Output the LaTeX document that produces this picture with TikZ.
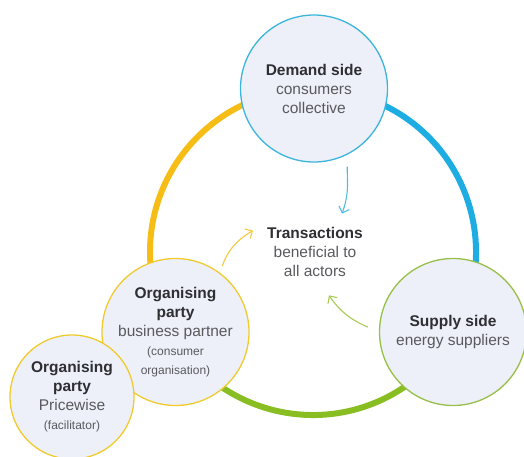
\documentclass[tikz,border=0pt]{standalone}
\usepackage{fontspec}
\setmainfont{Liberation Sans}
\usetikzlibrary{arrows.meta,positioning}

\definecolor{ringyellow}{HTML}{F6BD16}
\definecolor{ringblue}{HTML}{1DADE2}
\definecolor{ringgreen}{HTML}{88BE22}
\definecolor{demandblue}{HTML}{3BB5DC}
\definecolor{supplygreen}{HTML}{98BF48}
\definecolor{orgyellow}{HTML}{F0CB2E}
\definecolor{actorfill}{HTML}{EDF0F8}
\definecolor{txtdark}{HTML}{2E2E33}
\definecolor{txtgrey}{HTML}{5A5A5E}
\definecolor{arrowblue}{HTML}{52BCE4}
\definecolor{arrowyellow}{HTML}{F6C83E}
\definecolor{arrowgreen}{HTML}{A6CC52}

\newcommand{\hd}[1]{{\color{txtdark}\bfseries #1}}
\newcommand{\sm}[1]{{\fontsize{12}{15}\selectfont #1}}

\begin{document}
\begin{tikzpicture}[x=1pt,y=1pt]
\tikzstyle{actor} = [circle, line width=1.3pt, fill=actorfill,
minimum size=147pt, inner sep=0pt, align=center, text=txtgrey,
font=\fontsize{15.5}{19}\selectfont]
\tikzstyle{actor_demand} = [actor, draw=demandblue]
\tikzstyle{actor_supply} = [actor, draw=supplygreen]
\tikzstyle{actor_org} = [actor, draw=orgyellow]
\tikzstyle{actor_small} = [actor_org, minimum size=124pt]
\tikzstyle{centre_text} = [align=center, text=txtgrey, inner sep=3pt,
font=\fontsize{15.5}{19}\selectfont]
\tikzstyle{ring} = [line width=6pt]
\tikzstyle{line} = [draw, line width=1.1pt, -{Straight Barb[length=5.5pt,width=11pt]}]

\useasboundingbox (0,0) rectangle (524,456);
\coordinate (centre) at (313,204);

% ring
\draw [ring, draw=ringyellow] (centre) ++(90:163) arc [start angle=90, end angle=210, radius=163];
\draw [ring, draw=ringblue] (centre) ++(-30:163) arc [start angle=-30, end angle=90, radius=163];
\draw [ring, draw=ringgreen] (centre) ++(210:163) arc [start angle=210, end angle=330, radius=163];

% actors
\node [actor_demand] (demand) at (314,367.5) {\hd{Demand side}\\consumers\\collective};
\node [actor_supply] (supply) at (453,124) {\hd{Supply side}\\energy suppliers};
\node [actor_org] (partner) at (175.5,124) {\hd{Organising}\\\hd{party}\\business partner\\\sm{(consumer}\\\sm{organisation)}};
\node [actor_small] (pricewise) at (72,59) {\hd{Organising}\\\hd{party}\\Pricewise\\\sm{(facilitator)}};

% centre
\node [centre_text] (trans) at (315,204) {\hd{Transactions}\\beneficial to\\all actors};
\coordinate [above right=10.5pt and 27pt of trans.north] (tip_demand);
\coordinate [below left=6.5pt and 11pt of trans.north west] (tip_partner);
\coordinate [below right=15.5pt and 14pt of trans.south] (tip_supply);

% arrows
\path [line, draw=arrowblue, shorten <=12pt] (demand.-63) to [out=-92, in=70] (tip_demand);
\path [line, draw=arrowyellow, shorten <=7pt] (partner.53) to [out=72, in=210] (tip_partner);
\path [line, draw=arrowgreen, shorten <=12pt] (supply.180) to [out=156, in=-56] (tip_supply);

\end{tikzpicture}
\end{document}
